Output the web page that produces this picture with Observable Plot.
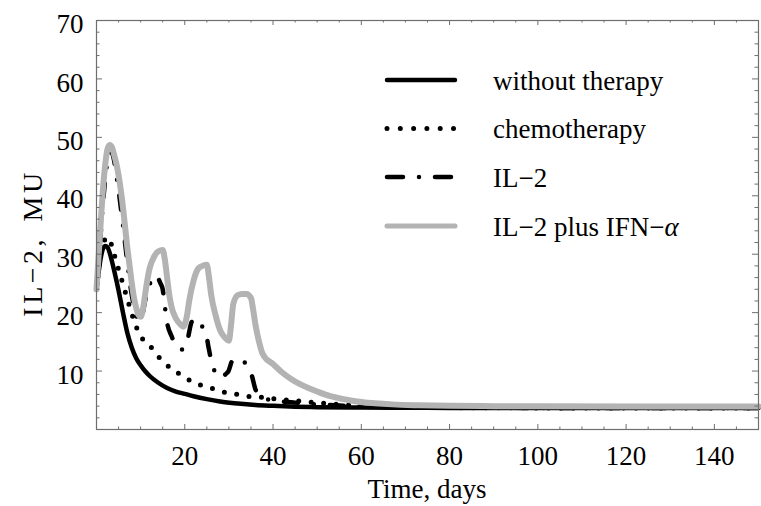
<!DOCTYPE html>
<html><head><meta charset="utf-8">
<script src="https://cdn.jsdelivr.net/npm/d3@7"></script>
<script src="https://cdn.jsdelivr.net/npm/@observablehq/plot@0.6"></script>
<style>
body{margin:0;background:#fff}
#chart{position:relative;width:761px;height:506px}
</style>
</head><body><div id="chart"></div>
<script>
// ---- data ----
const seriesNames = ["without therapy", "chemotherapy", "IL\u22122", "IL\u22122 plus IFN\u2212\u03b1"];

const tNone = [0,0.5,1,1.5,2,2.5,3,3.5,4,5,6,7,8,9,10,11,12,14,16,18,20,22,25,28,32,36,40,45,50,60,70,80,100,150];
const vNone = [24,27,29.5,31,31.4,31.2,30.2,28.8,27.2,23.8,20,16.5,14,12.2,11,10,9.2,8,7.1,6.5,6.1,5.7,5.2,4.8,4.45,4.2,4.05,3.9,3.82,3.75,3.72,3.7,3.7,3.7];

const tChemo = [0,0.5,1,1.5,2,2.5,3,3.5,4,4.5,5,6,7,8,9,10,11,12,13,14,16,18,20,22,24,26,28,30,32,35,38,41,44,48,52,56,60,70,80,100,150];
const vChemo = [24,27.5,30,31.8,32.6,32.9,32.6,31.3,30,28.7,27.4,24.9,22.3,19.8,17.6,16,15,14.3,13.6,12.5,11,9.9,8.9,8.1,7.5,7.1,6.6,6.2,6.0,5.6,5.5,5.2,5.0,4.7,4.45,4.25,4.1,3.85,3.75,3.7,3.7];

const tIL2 = [0,0.5,1,1.5,2,2.5,3,3.5,4,4.5,5,5.5,6,7,8,9,9.8,10.5,11,12,12.5,13.5,14.5,15,15.5,16,17,18,19,19.5,20.5,21.5,22,23,24,24.7,25.4,26.2,27,27.7,28.5,29.3,29.9,30.7,31.5,32.5,33.7,34.5,35.2,36,37,37.9,40,42,45,50,55,60,70,80,100,150];
const vIL2 = [24,29,34,39,43,46,47.5,47.3,46,43.5,41,38,35,28.5,23,19.5,18.5,20,22,24.5,26,26.3,25,24,21,18.3,16,14.3,13.7,13.7,15,18.3,19,18.5,17.6,16.9,14,11.2,9.6,8.9,9,9.5,10,11.7,12.1,12,11.4,10.5,9.2,6.9,5.9,5.4,5,4.8,4.6,4.3,4.1,3.95,3.8,3.72,3.7,3.7];

const tIFN = [0,0.5,1,1.5,2,2.5,3,3.5,4,4.5,5,5.5,6,6.5,7,7.5,8,8.5,9,9.5,10,10.5,11,11.5,12,13,14,15,15.5,16,16.5,17,18,19,19.7,20.5,21,22,23,24,25,25.5,26,27,28,29,30,30.5,31,32,33,34,35,35.5,36,37,37.5,38,40,42,44,46,48,50,53,56,59,63,67,73,80,90,100,150];
const vIFN = [24,30,36,41.5,45.5,48,48.7,48.3,47,45.5,43.5,41,38,34.5,31,28,25,22.5,20.8,19.6,19.3,20.5,23,25.5,27.5,29.5,30.5,30.7,29,26,23,21,19,18,17.6,19.5,22,25.5,27.5,28,28.2,26,23,19.5,17,15.8,15.2,18,21.5,23,23.2,23.2,22.5,20.5,18,14.5,13.2,12.5,11.2,9.8,8.7,7.8,7.1,6.5,5.7,5.2,4.8,4.5,4.3,4.15,4.05,4.0,3.97,3.95];

const xTicks = [20,40,60,80,100,120,140];
const xMinor = [5,10,15,25,30,35,45,50,55,65,70,75,85,90,95,105,110,115,125,130,135,145];
const yTicks = [10,20,30,40,50,60,70];
const yMinor = [2,4,6,8,12,14,16,18,22,24,26,28,32,34,36,38,42,44,46,48,52,54,56,58,62,64,66,68];

const xLabel = "Time, days";
const yLabel = "IL\u22122, MU";

// ---- build tables ----
function table(ts, vs, name){ return ts.map((t,i)=>({t, v: vs[i], name})); }
const dNone = table(tNone, vNone, seriesNames[0]);
const dChemo = table(tChemo, vChemo, seriesNames[1]);
const dIL2 = table(tIL2, vIL2, seriesNames[2]);
const dIFN = table(tIFN, vIFN, seriesNames[3]);

const styles = [
  {stroke:"#000", strokeWidth:4.5, strokeDasharray:null},
  {stroke:"#000", strokeWidth:5, strokeDasharray:"0,12.5"},
  {stroke:"#000", strokeWidth:4.5, strokeDasharray:"14,16,0,16"},
  {stroke:"#b3b3b3", strokeWidth:6, strokeDasharray:null}
];

const W=761, H=506, mL=96, mR=3, mT=20, mB=77;
const pw = W-mL-mR, ph = H-mT-mB;
const frameColor = "#6e6e6e";
const font = "'Liberation Serif','Times New Roman',serif";

function lineMark(data, s){
  const o = {x:"t", y:"v", stroke:s.stroke, strokeWidth:s.strokeWidth, strokeLinecap:"round", strokeLinejoin:"round", curve:"monotone-x"};
  if (s.strokeDasharray) o.strokeDasharray = s.strokeDasharray;
  return Plot.line(data, o);
}

const chart = Plot.plot({
  width: W, height: H,
  marginLeft: mL, marginRight: mR, marginTop: mT, marginBottom: mB,
  style: {fontFamily: font, fontSize: "27px", color: "#000", background: "#fff"},
  x: {domain:[0,150]},
  y: {domain:[0,70]},
  marks: [
    lineMark(dNone, styles[0]),
    lineMark(dChemo, styles[1]),
    lineMark(dIL2, styles[2]),
    lineMark(dIFN, styles[3]),
    Plot.frame({stroke: frameColor, strokeWidth: 1.2}),
    Plot.tickX(xTicks, {x:d=>d, stroke:frameColor, insetTop: ph-5}),
    Plot.tickX(xMinor, {x:d=>d, stroke:frameColor, insetTop: ph-2.5}),
    Plot.tickX(xTicks, {x:d=>d, stroke:frameColor, insetBottom: ph-5}),
    Plot.tickX(xMinor, {x:d=>d, stroke:frameColor, insetBottom: ph-2.5}),
    Plot.tickY(yTicks, {y:d=>d, stroke:frameColor, insetRight: pw-6}),
    Plot.tickY(yMinor, {y:d=>d, stroke:frameColor, insetRight: pw-3.5}),
    Plot.tickY(yTicks, {y:d=>d, stroke:frameColor, insetLeft: pw-6}),
    Plot.tickY(yMinor, {y:d=>d, stroke:frameColor, insetLeft: pw-3.5}),
    Plot.axisX(xTicks, {tickSize:0, tickPadding:16, fontSize:27, label:null, fill:"#000"}),
    Plot.axisY(yTicks, {tickSize:0, tickPadding:13, fontSize:27, label:null, fill:"#000", dy:4})
  ]
});
document.getElementById("chart").appendChild(chart);

// axis titles and legend (inside the frame, upper right)
const svg = d3.select(chart);
svg.append("text").attr("x", mL + pw/2).attr("y", 498).attr("text-anchor","middle")
  .attr("font-family", font).attr("font-size", 27).attr("fill","#000").text(xLabel);
svg.append("text").attr("transform","translate(41.5,243) rotate(-90)").attr("text-anchor","middle")
  .attr("font-family", font).attr("font-size", 28).attr("fill","#000")
  .attr("letter-spacing", 3.5).attr("word-spacing", 4).text(yLabel);

const lg = svg.append("g").attr("text-anchor", "start");
const legendY = [80, 128.5, 177, 226];
seriesNames.forEach((name, i) => {
  const s = styles[i];
  const ln = lg.append("line").attr("x1", 387).attr("x2", 455).attr("y1", legendY[i]).attr("y2", legendY[i])
    .attr("stroke", s.stroke).attr("stroke-width", i===3 ? 5 : s.strokeWidth).attr("stroke-linecap","round");
  if (s.strokeDasharray) ln.attr("stroke-dasharray", i===1 ? "0,13.3" : "16,16,0,16");
  const tx = lg.append("text").attr("x", 493).attr("y", legendY[i] + 9.5).attr("text-anchor", "start")
    .attr("font-family", font).attr("font-size", 27).attr("fill", "#000");
  if (i === 3) {
    tx.text("IL\u22122 plus IFN\u2212");
    tx.append("tspan").attr("font-style","italic").text("\u03b1");
  } else tx.text(name);
});
</script>
</body></html>
